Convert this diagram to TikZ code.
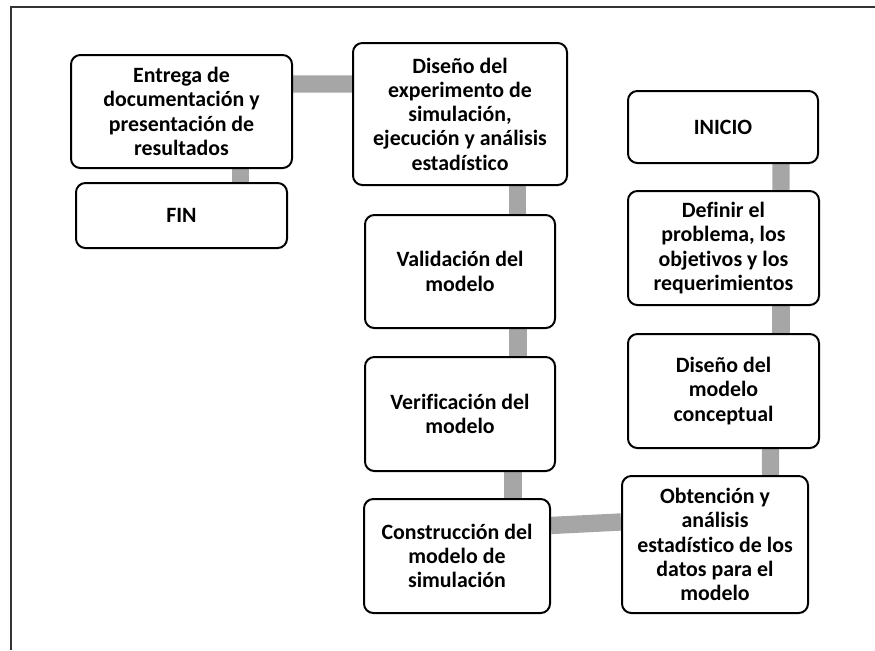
\documentclass[tikz,border=0pt]{standalone}
\usepackage{fontspec}
\setmainfont{Carlito}[Ligatures=NoCommon]
\usetikzlibrary{backgrounds}

\begin{document}
\begin{tikzpicture}[x=0.75pt, y=-0.75pt,
    paso/.style={rectangle, draw, line width=1.5pt, rounded corners=7pt, fill=white,
      inner sep=0pt, align=center, font=\bfseries\fontsize{16.4}{18.2}\selectfont},
    enlace/.style={line width=13pt, color=black!35}
    ]
    \useasboundingbox (0,0) rectangle (875,650);
    \draw[line width=1.5pt, black!80] (11,650) -- (11,7) -- (875,7);

    \node[paso, minimum width=165.75pt, minimum height=84.75pt] (entrega) at (181.5,111.5)
      {Entrega de\\documentación y\\presentación de\\resultados};
    \node[paso, minimum width=158.25pt, minimum height=48.75pt] (fin) at (181.5,215.5) {FIN};
    \node[paso, minimum width=160.5pt, minimum height=106.5pt] (disexp) at (460,114)
      {Diseño del\\experimento de\\simulación,\\ejecución y análisis\\estadístico};
    \node[paso, minimum width=142.5pt, minimum height=84.75pt] (valid) at (460,271.5)
      {Validación del\\modelo};
    \node[paso, minimum width=142.5pt, minimum height=85.5pt] (verif) at (460,414)
      {Verificación del\\modelo};
    \node[paso, minimum width=139.5pt, minimum height=85.5pt] (constr) at (457,556)
      {Construcción del\\modelo de\\simulación};
    \node[paso, minimum width=142.5pt, minimum height=54pt] (inicio) at (723,127) {INICIO};
    \node[paso, minimum width=143.25pt, minimum height=85.5pt] (definir) at (723.5,248)
      {Definir el\\problema, los\\objetivos y los\\requerimientos};
    \node[paso, minimum width=143.25pt, minimum height=85.5pt] (disconc) at (723.5,391)
      {Diseño del\\modelo\\conceptual};
    \node[paso, minimum width=139.5pt, minimum height=102.75pt] (obten) at (715,544.5)
      {Obtención y\\análisis\\estadístico de los\\datos para el\\modelo};

    \begin{pgfonlayer}{background}
      \draw[enlace] ([xshift=43.5pt]inicio.south) -- ([xshift=43.1pt]definir.north);
      \draw[enlace] ([xshift=43.1pt]definir.south) -- ([xshift=43.1pt]disconc.north);
      \draw[enlace] ([xshift=35.25pt]disconc.south) -- ([xshift=41.6pt]obten.north);
      \draw[enlace] ([yshift=16.9pt]obten.west) -- ([yshift=22.9pt]constr.east);
      \draw[enlace] ([xshift=42pt]constr.north) -- ([xshift=39.75pt]verif.south);
      \draw[enlace] ([xshift=43.5pt]verif.north) -- ([xshift=43.5pt]valid.south);
      \draw[enlace] ([xshift=43pt]valid.north) -- ([xshift=43pt]disexp.south);
      \draw[enlace] ([yshift=22.5pt]disexp.west) -- ([yshift=20.6pt]entrega.east);
      \draw[enlace] ([xshift=44pt]entrega.south) -- ([xshift=44pt]fin.north);
    \end{pgfonlayer}
  \end{tikzpicture}
\end{document}
